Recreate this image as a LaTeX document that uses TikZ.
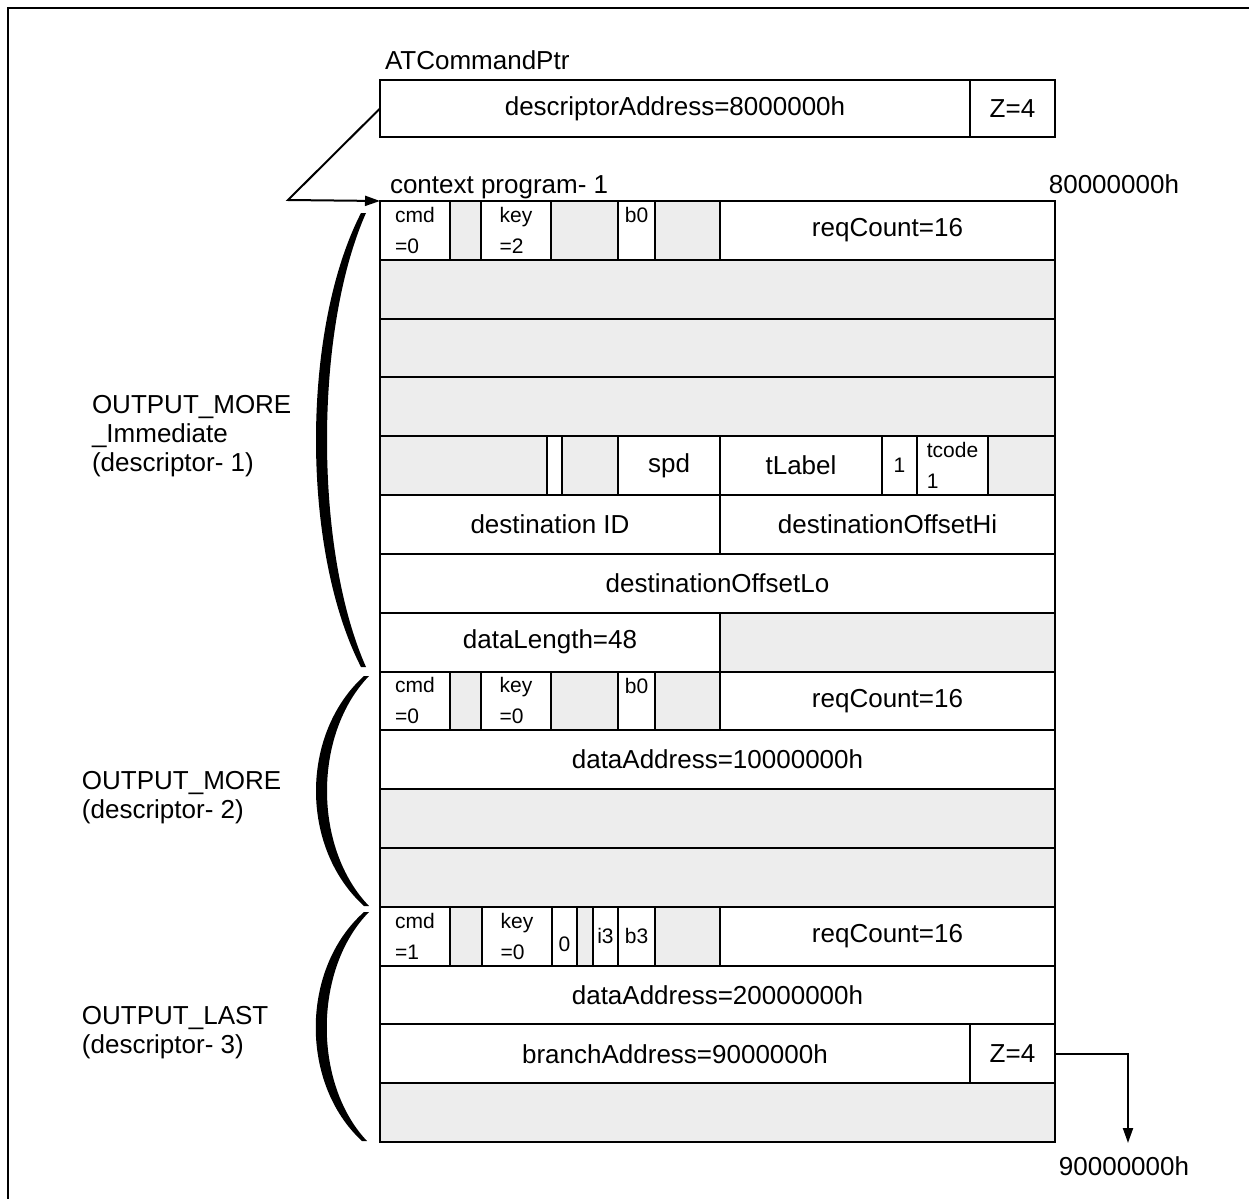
\documentclass[tikz,border=0pt]{standalone}
\usepackage{fontspec}
\setmainfont{Liberation Sans}
\usepackage{tikz}
\usetikzlibrary{arrows.meta}

\begin{document}
\begin{tikzpicture}[
  x=0.5pt,y=-0.5pt,
  font=\fontsize{13}{14.5}\selectfont,
  fld/.style={draw,line width=1pt,inner sep=0pt,outer sep=0pt,anchor=north west,minimum height=29.4pt},
  gry/.style={fld,fill=black!7},
  sml/.style={fld,align=left,font=\fontsize{10.5}{15.5}\selectfont},
  txt/.style={inner sep=0pt,outer sep=0pt},
  desc/.style={txt,anchor=west,align=left},
  brc/.style={fill=black},
  >={Triangle[length=7.5pt,width=5pt]},
  ptr/.style={->,line width=1pt}
]
\useasboundingbox (0,0) rectangle (1249,1199);
\draw[line width=1pt] (8,1199) -- (8,8) -- (1249,8);

% ---------------- command pointer ----------------
\node[txt,anchor=base west] (atcp) at (385,69) {ATCommandPtr};
\node[fld,minimum width=295pt,minimum height=28.5pt] (daddr) at (380,80) {descriptorAddress=8000000h};
\node[fld,minimum width=42.5pt,minimum height=28.5pt] (zA) at (970,80) {Z=4};
\node[txt,anchor=base west] (ctxlbl) at (390,193) {context program- 1};
\node[txt,anchor=base east] (adr8) at (1179,193) {80000000h};

% ---------------- descriptor 1: OUTPUT_MORE_Immediate ----------------
\node[sml,minimum width=35pt] (cmdA) at (380,201) {cmd\\=0};
\node[gry,minimum width=15.5pt] (gA1) at (450,201) {};
\node[sml,minimum width=35pt] (keyA) at (481,201) {key\\=2};
\node[gry,minimum width=33.5pt] (gA2) at (551,201) {};
\node[sml,minimum width=18.5pt] (bA) at (618,201) {b0\\\mbox{}};
\node[gry,minimum width=32.5pt] (gA3) at (655,201) {};
\node[fld,minimum width=167.5pt] (reqA) at (720,201) {reqCount=16};
\node[gry,minimum width=337.5pt] (qA1) at (380,259.8) {};
\node[gry,minimum width=337.5pt] (qA2) at (380,318.6) {};
\node[gry,minimum width=337.5pt] (qA3) at (380,377.4) {};
\node[gry,minimum width=83.5pt] (gA4) at (380,436.3) {};
\node[fld,minimum width=7.5pt] (wA) at (547,436.3) {};
\node[gry,minimum width=28pt] (gA5) at (562,436.3) {};
\node[fld,minimum width=51pt] (spd) at (618,436.3) {spd};
\node[fld,minimum width=81pt] (tlab) at (720,436.3) {tLabel};
\node[sml,minimum width=17.5pt] (rt) at (882,436.3) {1};
\node[sml,minimum width=35.5pt] (tcode) at (917,436.3) {tcode\\1};
\node[gry,minimum width=33.5pt] (gA6) at (988,436.3) {};
\node[fld,minimum width=170pt] (dstid) at (380,495.1) {destination ID};
\node[fld,minimum width=167.5pt] (dsthi) at (720,495.1) {destinationOffsetHi};
\node[fld,minimum width=337.5pt] (dstlo) at (380,553.9) {destinationOffsetLo};
\node[fld,minimum width=170pt] (dlen) at (380,612.7) {dataLength=48};
\node[gry,minimum width=167.5pt] (gA7) at (720,612.7) {};

% ---------------- descriptor 2: OUTPUT_MORE ----------------
\node[sml,minimum width=35pt] (cmdB) at (380,671.5) {cmd\\=0};
\node[gry,minimum width=15.5pt] (gB1) at (450,671.5) {};
\node[sml,minimum width=35pt] (keyB) at (481,671.5) {key\\=0};
\node[gry,minimum width=33.5pt] (gB2) at (551,671.5) {};
\node[sml,minimum width=18.5pt] (bB) at (618,671.5) {b0\\\mbox{}};
\node[gry,minimum width=32.5pt] (gB3) at (655,671.5) {};
\node[fld,minimum width=167.5pt] (reqB) at (720,671.5) {reqCount=16};
\node[fld,minimum width=337.5pt] (daB) at (380,730.3) {dataAddress=10000000h};
\node[gry,minimum width=337.5pt] (qB1) at (380,789.1) {};
\node[gry,minimum width=337.5pt] (qB2) at (380,847.9) {};

% ---------------- descriptor 3: OUTPUT_LAST ----------------
\node[sml,minimum width=35pt] (cmdC) at (380,906.8) {cmd\\=1};
\node[gry,minimum width=16pt] (gC1) at (450,906.8) {};
\node[sml,minimum width=35pt] (keyC) at (482,906.8) {key\\=0};
\node[sml,minimum width=12.5pt] (zC) at (552,906.8) {\mbox{}\\0};
\node[gry,minimum width=8pt] (gC2) at (577,906.8) {};
\node[sml,minimum width=12.5pt] (iC) at (593,906.8) {i3};
\node[sml,minimum width=18.5pt] (bC) at (618,906.8) {b3};
\node[gry,minimum width=32.5pt] (gC3) at (655,906.8) {};
\node[fld,minimum width=167.5pt] (reqC) at (720,906.8) {reqCount=16};
\node[fld,minimum width=337.5pt] (daC) at (380,965.6) {dataAddress=20000000h};
\node[fld,minimum width=295pt] (brC) at (380,1024.4) {branchAddress=9000000h};
\node[fld,minimum width=42.5pt] (zB) at (970,1024.4) {Z=4};
\node[gry,minimum width=337.5pt] (qC1) at (380,1083.2) {};

% ---------------- braces and names ----------------
\fill[brc] (361,213) .. controls (301,330) and (301,550) .. (361,667)
  -- (366,667) .. controls (314,550) and (314,330) .. (366,213) -- cycle;
\fill[brc] (364,676) .. controls (300,734) and (300,848) .. (364,906)
  -- (369,906) .. controls (313,848) and (313,734) .. (369,676) -- cycle;
\fill[brc] (364,912) .. controls (300,969) and (300,1084) .. (362,1141)
  -- (367,1141) .. controls (313,1084) and (313,969) .. (369,912) -- cycle;
\node[desc] (lblA) at (92,436) {OUTPUT\_MORE\\\_Immediate\\(descriptor- 1)};
\node[desc] (lblB) at (82,798) {OUTPUT\_MORE\\(descriptor- 2)};
\node[desc] (lblC) at (82,1033) {OUTPUT\_LAST\\(descriptor- 3)};

% ---------------- pointers ----------------
\coordinate (bend) at (288,200);
\draw[ptr] (daddr.west) -- (bend) -- (cmdA.north west);
\node[txt,anchor=base] (adr9) at (1124,1175) {90000000h};
\coordinate (brtip) at (1128,1143);
\draw[ptr] (zB.east) -| (brtip);
\end{tikzpicture}
\end{document}
